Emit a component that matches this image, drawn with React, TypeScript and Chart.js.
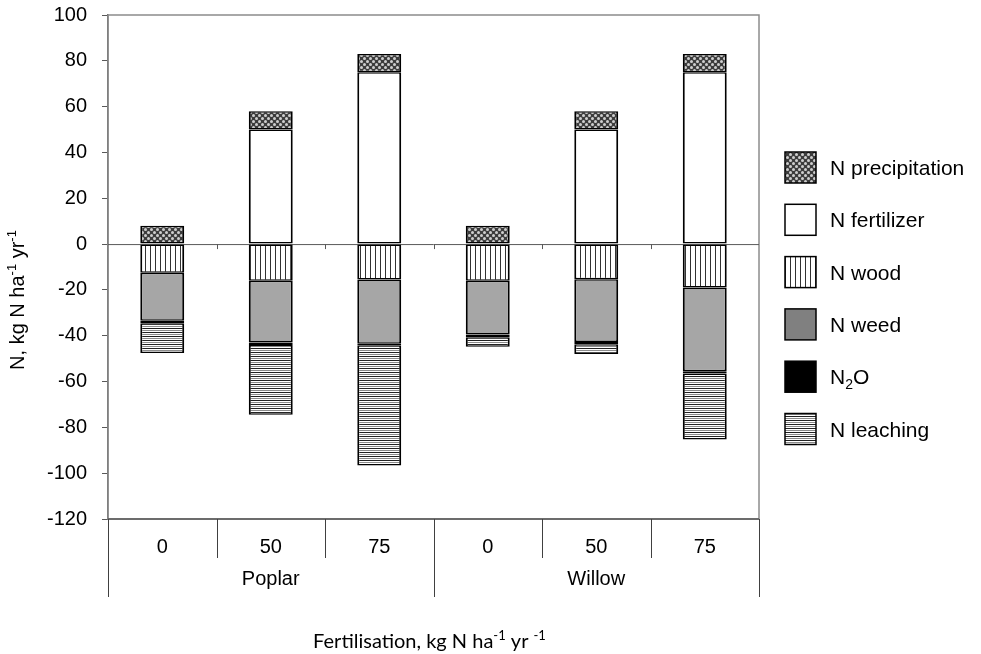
import React, { useEffect, useRef } from 'react';
import { Chart, registerables } from 'chart.js';
Chart.register(...registerables);

const categories = ['0', '50', '75', '0', '50', '75'];
const groups = ['Poplar', 'Willow'];
const groupSize = 3;

const precipitation = [8, 8, 8, 8, 8, 8];
const fertilizer = [0, 50, 75, 0, 50, 75];
const wood = [-12.5, -16, -15.5, -16, -15.3, -18.9];
const weed = [-21, -27, -28, -23.5, -27.4, -36.6];
const n2o = [-1, -1, -0.7, -1.2, -1, -1];
const leaching = [-13, -30.5, -52.5, -4.1, -4.3, -28.8];

const yMin = -120;
const yMax = 100;
const yStep = 20;

const FONT = '"Liberation Sans", Arial, sans-serif';

function makePattern(kind: string): CanvasPattern | string {
  const c = document.createElement('canvas');
  const ctx = c.getContext('2d')!;
  if (kind === 'dots') {
    c.width = 6; c.height = 6;
    ctx.fillStyle = '#3c3c3c';
    ctx.fillRect(0, 0, 6, 6);
    ctx.fillStyle = '#cfcfcf';
    for (const [x, y] of [[1.5, 1.5], [4.5, 4.5]]) {
      ctx.beginPath(); ctx.arc(x, y, 1.5, 0, Math.PI * 2); ctx.fill();
    }
  } else if (kind === 'vlines') {
    c.width = 5; c.height = 1;
    ctx.fillStyle = '#ffffff'; ctx.fillRect(0, 0, 5, 1);
    ctx.fillStyle = '#333333'; ctx.fillRect(0, 0, 1, 1);
  } else if (kind === 'hlines') {
    c.width = 1; c.height = 4;
    ctx.fillStyle = '#ffffff'; ctx.fillRect(0, 0, 1, 4);
    ctx.fillStyle = '#222222'; ctx.fillRect(0, 0, 1, 1);
    ctx.fillStyle = '#8a8a8a'; ctx.fillRect(0, 2, 1, 1);
  }
  return ctx.createPattern(c, 'repeat')!;
}

function drawSegments(ctx: CanvasRenderingContext2D, segs: [string, string][], x: number, y: number, size: number, family: string, align: 'center' | 'left') {
  const widths = segs.map(([t, k]) => {
    ctx.font = `${k === 'n' ? size : Math.round(size * 0.65)}px ${family}`;
    return ctx.measureText(t).width;
  });
  const total = widths.reduce((a, b) => a + b, 0);
  let cx = align === 'center' ? x - total / 2 : x;
  ctx.textAlign = 'left';
  ctx.textBaseline = 'alphabetic';
  segs.forEach(([t, k], i) => {
    ctx.font = `${k === 'n' ? size : Math.round(size * 0.65)}px ${family}`;
    const dy = k === 'sup' ? -size * 0.38 : k === 'sub' ? size * 0.22 : 0;
    ctx.fillText(t, cx, y + dy);
    cx += widths[i];
  });
}

export default function App() {
  const ref = useRef<HTMLCanvasElement>(null);
  useEffect(() => {
    document.body.style.margin = '0';
    document.body.style.overflow = 'hidden';
    const pPrec = makePattern('dots');
    const pWood = makePattern('vlines');
    const pLeach = makePattern('hlines');

    const legendItems: { label: [string, string][]; fill: any }[] = [
      { label: [['N precipitation', 'n']], fill: pPrec },
      { label: [['N fertilizer', 'n']], fill: '#ffffff' },
      { label: [['N wood', 'n']], fill: pWood },
      { label: [['N weed', 'n']], fill: '#808080' },
      { label: [['N', 'n'], ['2', 'sub'], ['O', 'n']], fill: '#000000' },
      { label: [['N leaching', 'n']], fill: pLeach },
    ];

    const decor = {
      id: 'decor',
      beforeDatasetsDraw(chart: any) {
        const { ctx, chartArea: a, scales } = chart;
        ctx.save();
        ctx.strokeStyle = '#8c8c8c';
        ctx.lineWidth = 1.5;
        ctx.strokeRect(a.left, a.top, a.right - a.left, a.bottom - a.top);
        const y0 = scales.y.getPixelForValue(0);
        ctx.strokeStyle = '#595959';
        ctx.lineWidth = 1;
        ctx.beginPath();
        ctx.moveTo(a.left, y0 + 0.5); ctx.lineTo(a.right, y0 + 0.5);
        const cw = (a.right - a.left) / categories.length;
        for (let k = 1; k < categories.length; k++) {
          const x = Math.round(a.left + k * cw) + 0.5;
          ctx.moveTo(x, y0); ctx.lineTo(x, y0 + 5);
        }
        ctx.stroke();
        ctx.restore();
      },
      afterDraw(chart: any) {
        const { ctx, chartArea: a, scales } = chart;
        ctx.save();
        ctx.strokeStyle = '#595959';
        ctx.lineWidth = 1.5;
        ctx.beginPath();
        ctx.moveTo(a.left, a.bottom); ctx.lineTo(a.right, a.bottom);
        ctx.stroke();
        const cw = (a.right - a.left) / categories.length;
        ctx.lineWidth = 1;
        ctx.strokeStyle = '#404040';
        ctx.beginPath();
        for (let k = 0; k <= categories.length; k++) {
          const x = Math.round(a.left + k * cw) + 0.5;
          const long = k % groupSize === 0;
          ctx.moveTo(x, a.bottom); ctx.lineTo(x, a.bottom + (long ? 78 : 39));
        }
        ctx.stroke();
        ctx.fillStyle = '#000';
        ctx.font = `20px ${FONT}`;
        ctx.textAlign = 'center';
        ctx.textBaseline = 'middle';
        groups.forEach((g, gi) => {
          const x0 = scales.x.getPixelForValue(gi * groupSize);
          const x1 = scales.x.getPixelForValue(gi * groupSize + groupSize - 1);
          ctx.fillText(g, (x0 + x1) / 2, a.bottom + 60);
        });
        drawSegments(ctx, [['Fertilisation, kg N ha', 'n'], ['-1', 'sup'], [' yr ', 'n'], ['-1', 'sup']],
          (a.left + a.right) / 2 - 4, a.bottom + 129, 20, 'Lato, "Open Sans", sans-serif', 'center');
        ctx.save();
        ctx.translate(24, (a.top + a.bottom) / 2 + 33);
        ctx.rotate(-Math.PI / 2);
        drawSegments(ctx, [['N, kg N ha', 'n'], ['-1', 'sup'], [' yr', 'n'], ['-1', 'sup']], 0, 0, 20, FONT, 'center');
        ctx.restore();
        const lx = a.right + 26;
        const ly = a.top + 137;
        legendItems.forEach((it, i) => {
          const y = ly + i * 52.3;
          ctx.fillStyle = it.fill;
          ctx.fillRect(lx, y, 31, 31);
          ctx.strokeStyle = '#000';
          ctx.lineWidth = 1.5;
          ctx.strokeRect(lx, y, 31, 31);
          ctx.fillStyle = '#000';
          drawSegments(ctx, it.label, lx + 45, y + 23, 21, FONT, 'left');
        });
        ctx.restore();
      },
    };

    const common = {
      borderColor: '#000000',
      borderWidth: { left: 2, right: 2, top: 1.5, bottom: 1.5 },
      borderSkipped: false as const,
      barPercentage: 0.405,
      categoryPercentage: 1,
      stack: 's',
    };

    const chart = new Chart(ref.current!, {
      type: 'bar',
      data: {
        labels: categories,
        datasets: [
          { ...common, label: 'N fertilizer', data: fertilizer, backgroundColor: '#ffffff' },
          { ...common, label: 'N precipitation', data: precipitation, backgroundColor: pPrec as any },
          { ...common, label: 'N wood', data: wood, backgroundColor: pWood as any },
          { ...common, label: 'N weed', data: weed, backgroundColor: '#a6a6a6' },
          { ...common, label: 'N2O', data: n2o, backgroundColor: '#000000' },
          { ...common, label: 'N leaching', data: leaching, backgroundColor: pLeach as any },
        ],
      },
      options: {
        responsive: true,
        maintainAspectRatio: false,
        animation: false,
        layout: { padding: { top: 15, right: 222, left: 0, bottom: 0 } },
        plugins: { legend: { display: false }, tooltip: { enabled: false } },
        scales: {
          x: {
            stacked: true,
            offset: true,
            grid: { display: false },
            border: { display: false },
            ticks: { color: '#000', padding: 8, font: { family: FONT, size: 20 } },
            afterFit: (s: any) => { s.height = 135; s.paddingLeft = 0; s.paddingRight = 0; },
          },
          y: {
            stacked: true,
            min: yMin,
            max: yMax,
            grid: { drawOnChartArea: false, tickLength: 6, color: '#595959' },
            border: { display: true, color: '#595959', width: 1.5 },
            ticks: { stepSize: yStep, padding: 15, color: '#000', font: { family: FONT, size: 20 } },
            afterFit: (s: any) => { s.width = 108; s.paddingTop = 0; s.paddingBottom = 0; },
          },
        },
      },
      plugins: [decor],
    });
    return () => chart.destroy();
  }, []);
  return (
    <div style={{ position: 'relative', width: '981px', height: '654px' }}>
      <canvas ref={ref} />
    </div>
  );
}
